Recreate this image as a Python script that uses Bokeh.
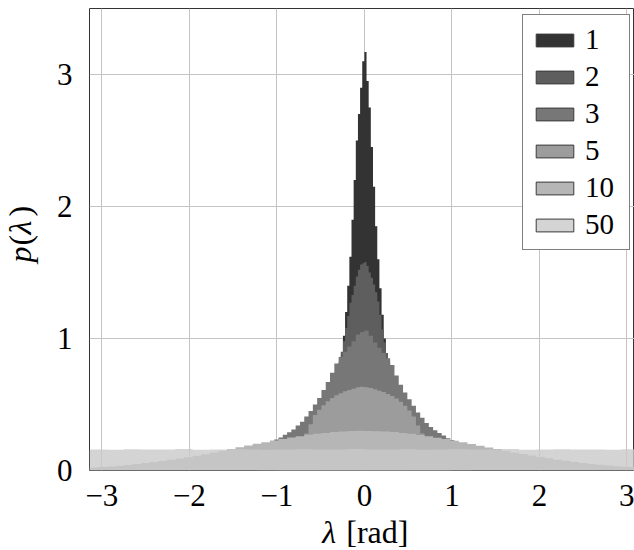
import numpy as np
from bokeh.plotting import figure
from bokeh.layouts import row, column
from bokeh.models import Range1d, FixedTicker, Legend, LegendItem
from bokeh.core.properties import value
from bokeh.embed import file_html
from bokeh.resources import INLINE

# ---------------- data ----------------
series_names = ["1", "2", "3", "5", "10", "50"]

# each histogram: left edge, bin width, bin heights (left to right)
h1_lo, h1_w = -20 * np.pi / 128, np.pi / 128
h1 = [0.26, 0.28, 0.32, 0.36, 0.41, 0.47, 0.54, 0.63, 0.74, 0.87,
      1.02, 1.20, 1.40, 1.62, 1.90, 2.20, 2.50, 2.70, 2.90, 3.10,
      3.17, 2.95, 2.75, 2.45, 2.15, 1.85, 1.60, 1.38, 1.18, 1.00,
      0.85, 0.72, 0.62, 0.53, 0.46, 0.40, 0.35, 0.31, 0.28, 0.25]

h2_lo, h2_w = -20 * np.pi / 128, np.pi / 128
h2 = [0.35, 0.39, 0.44, 0.48, 0.54, 0.60, 0.67, 0.74, 0.82, 0.90,
      0.98, 1.08, 1.17, 1.27, 1.33, 1.40, 1.47, 1.52, 1.56, 1.57,
      1.58, 1.55, 1.50, 1.46, 1.41, 1.35, 1.28, 1.18, 1.07, 0.97,
      0.89, 0.82, 0.75, 0.68, 0.61, 0.55, 0.49, 0.44, 0.40, 0.36]

h3_lo, h3_w = -25 * np.pi / 64, np.pi / 64
h3 = [0.165, 0.18, 0.20, 0.215, 0.235, 0.25, 0.27, 0.29, 0.31, 0.34,
      0.37, 0.41, 0.45, 0.50, 0.55, 0.61, 0.67, 0.74, 0.81, 0.86,
      0.90, 0.94, 0.98, 1.03, 1.05,
      1.06, 1.02, 0.97, 0.93, 0.89, 0.85, 0.80, 0.72, 0.65, 0.59,
      0.54, 0.49, 0.44, 0.40, 0.36, 0.33, 0.305, 0.285, 0.265, 0.245,
      0.23, 0.21, 0.195, 0.18, 0.165]

h5_lo, h5_w = -20 * np.pi / 64, np.pi / 64
h5 = [0.13, 0.15, 0.17, 0.19, 0.21, 0.24, 0.28, 0.35, 0.42, 0.46,
      0.495, 0.525, 0.55, 0.57, 0.585, 0.60, 0.61, 0.62, 0.63, 0.635,
      0.63, 0.625, 0.615, 0.605, 0.595, 0.58, 0.565, 0.545, 0.52, 0.49,
      0.455, 0.41, 0.34, 0.28, 0.24, 0.21, 0.19, 0.17, 0.15, 0.13]

h10_lo, h10_w = -np.pi, np.pi / 32
h10 = [0.023, 0.027, 0.031, 0.036, 0.042, 0.049, 0.056, 0.064, 0.072, 0.081,
       0.091, 0.101, 0.112, 0.124, 0.136, 0.149, 0.162, 0.176, 0.189, 0.202,
       0.214, 0.227, 0.239, 0.250, 0.260, 0.270, 0.278, 0.285, 0.291, 0.296,
       0.299, 0.301,
       0.300, 0.298, 0.295, 0.291, 0.285, 0.278, 0.269, 0.260, 0.249, 0.238,
       0.226, 0.214, 0.201, 0.188, 0.175, 0.162, 0.149, 0.137, 0.125, 0.113,
       0.102, 0.092, 0.082, 0.073, 0.064, 0.057, 0.050, 0.043, 0.037, 0.032,
       0.028, 0.024]

h50_lo, h50_w = -np.pi, np.pi / 16
h50 = [0.160, 0.158, 0.161, 0.159, 0.160, 0.162, 0.158, 0.159, 0.161, 0.160,
       0.158, 0.160, 0.161, 0.159, 0.160, 0.162, 0.160, 0.159, 0.161, 0.158,
       0.160, 0.161, 0.159, 0.160, 0.162, 0.158, 0.160, 0.161, 0.159, 0.160,
       0.158, 0.161]

x_ticks = [-3, -2, -1, 0, 1, 2, 3]
x_tick_labels = ["\u22123", "\u22122", "\u22121", "0", "1", "2", "3"]
y_ticks = [0, 1, 2, 3]
y_tick_labels = ["0", "1", "2", "3"]

# axis titles split into pieces (italic symbols / upright text)
xlab_parts = ["\u03bb", "[rad]"]
xlab_italic = [True, False]
ylab_parts = ["p", "(", "\u03bb", ")"]
ylab_italic = [True, False, True, False]

colors = ["#333333", "#5e5e5e", "#777777", "#9c9c9c", "#b6b6b6", "#c9c9c9"]
alphas = [1.0, 1.0, 1.0, 1.0, 1.0, 0.8]

hists = [(h1_lo, h1_w, h1), (h2_lo, h2_w, h2), (h3_lo, h3_w, h3),
         (h5_lo, h5_w, h5), (h10_lo, h10_w, h10), (h50_lo, h50_w, h50)]

SERIF = "Liberation Serif"
FS = "31px"
FS_LAB = "32px"

YLAB_W = 44
XLAB_H = 35
p = figure(width=634 - YLAB_W, height=550 - XLAB_H, output_backend="svg",
           toolbar_location=None,
           x_range=Range1d(-np.pi, 3.087), y_range=Range1d(0, 3.5),
           min_border_left=89 - YLAB_W, min_border_right=0, min_border_top=8,
           min_border_bottom=550 - XLAB_H - 470)
p.background_fill_color = "white"
p.border_fill_color = "white"
p.outline_line_color = "#333333"
p.outline_line_width = 1

for (lo, w, h), c, a in zip(hists, colors, alphas):
    n = len(h)
    edges = lo + w * np.arange(n + 1)
    ys = list(h) + [h[-1]]
    p.varea_step(x=edges, y1=np.zeros(n + 1), y2=ys, step_mode="after",
                 fill_color=c, fill_alpha=a)

# axes
p.xaxis.ticker = FixedTicker(ticks=x_ticks)
p.yaxis.ticker = FixedTicker(ticks=y_ticks)
p.xaxis.major_label_overrides = {t: l for t, l in zip(x_ticks, x_tick_labels)}
p.yaxis.major_label_overrides = {t: l for t, l in zip(y_ticks, y_tick_labels)}
for ax in (p.xaxis, p.yaxis):
    ax.axis_line_color = None
    ax.major_tick_line_color = None
    ax.minor_tick_line_color = None
    ax.major_label_text_font = SERIF
    ax.major_label_text_font_size = FS
    ax.major_label_text_color = "black"
    ax.axis_label = None
p.xaxis.major_label_standoff = 8
p.yaxis.major_label_standoff = 11

p.xgrid.ticker = FixedTicker(ticks=x_ticks)
p.ygrid.ticker = FixedTicker(ticks=y_ticks)
p.grid.grid_line_color = "#c4c4c4"
p.grid.grid_line_width = 1

# legend (swatches from quads lying outside the visible range)
items = []
for name, c, a in zip(series_names, colors, alphas):
    r = p.quad(left=[10], right=[11], top=[1], bottom=[0], fill_color=c,
               fill_alpha=a, line_color="#3a3a3a", line_width=1)
    items.append(LegendItem(label=name, renderers=[r]))
legend = Legend(items=items, location=(433, 220), orientation="vertical",
                label_text_font=SERIF, label_text_font_size="29px",
                label_text_color="black",
                glyph_width=47, glyph_height=16, label_standoff=7, spacing=4,
                padding=8, margin=0, border_line_color="black",
                border_line_width=1, background_fill_alpha=1.0,
                label_height=30, label_width=36)
p.add_layout(legend)

# x axis title strip (strip-local coordinates, y measured upward)
xl = figure(width=634 - YLAB_W, height=XLAB_H, output_backend="svg",
            toolbar_location=None, x_axis_location=None, y_axis_location=None,
            x_range=Range1d(YLAB_W, 634), y_range=Range1d(0, XLAB_H),
            min_border=0, outline_line_color=None)
xl.grid.visible = False
xl_x = [296, 322]
for t, it, xx in zip(xlab_parts, xlab_italic, xl_x):
    xl.text(x=[xx], y=[19], text=[t], text_font=value(SERIF),
            text_font_style="italic" if it else "normal", text_font_size=FS_LAB,
            text_align="left", text_baseline="middle", text_color="black")

# y axis title strip (strip-local coordinates, y measured upward)
yl = figure(width=YLAB_W, height=550, output_backend="svg", toolbar_location=None,
            x_axis_location=None, y_axis_location=None,
            x_range=Range1d(0, YLAB_W), y_range=Range1d(0, 550),
            min_border=0, outline_line_color=None)
yl.grid.visible = False
yl_y = [288, 305, 316, 334]
for t, it, yy in zip(ylab_parts, ylab_italic, yl_y):
    yl.text(x=[19], y=[yy], text=[t], text_font=value(SERIF),
            text_font_style="italic" if it else "normal", text_font_size=FS_LAB,
            angle=np.pi / 2, text_align="left", text_baseline="middle",
            text_color="black")

layout = row(yl, column(p, xl, spacing=0), spacing=0)
open("out.html", "w").write(file_html(layout, INLINE))
